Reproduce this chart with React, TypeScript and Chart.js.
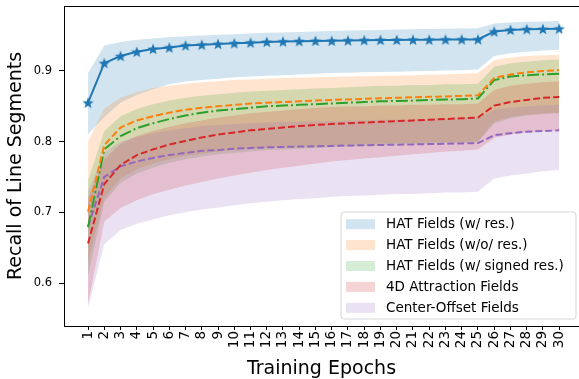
import React, { useEffect, useRef } from "react";
import { Chart, registerables } from "chart.js";

Chart.register(...registerables);

const epochs = [1, 2, 3, 4, 5, 6, 7, 8, 9, 10, 11, 12, 13, 14, 15, 16, 17, 18, 19, 20, 21, 22, 23, 24, 25, 26, 27, 28, 29, 30];
const yTicks = [0.6, 0.7, 0.8, 0.9];

const seriesNames = [
  "HAT Fields (w/ res.)",
  "HAT Fields (w/o/ res.)",
  "HAT Fields (w/ signed res.)",
  "4D Attraction Fields",
  "Center-Offset Fields",
];
const colors = ["#1f77b4", "#ff7f0e", "#2ca02c", "#d62728", "#9467bd"];

const hatRes = [0.855, 0.911, 0.921, 0.927, 0.931, 0.933, 0.936, 0.937, 0.938, 0.939, 0.940, 0.941, 0.9415, 0.942, 0.9424, 0.9425, 0.943, 0.9434, 0.9437, 0.9438, 0.944, 0.944, 0.9443, 0.9445, 0.9446, 0.9556, 0.958, 0.9589, 0.9593, 0.9598];
const hatResUpper = [0.897, 0.936, 0.941, 0.944, 0.946, 0.9475, 0.949, 0.95, 0.951, 0.952, 0.953, 0.9538, 0.9545, 0.955, 0.9558, 0.9565, 0.957, 0.9575, 0.958, 0.9585, 0.959, 0.9593, 0.9597, 0.96, 0.9603, 0.967, 0.9685, 0.9695, 0.97, 0.9706];
const hatResLower = [0.81, 0.835, 0.855, 0.866, 0.874, 0.881, 0.885, 0.887, 0.889, 0.891, 0.892, 0.893, 0.894, 0.895, 0.896, 0.897, 0.8975, 0.898, 0.8985, 0.899, 0.8995, 0.9, 0.9005, 0.901, 0.902, 0.921, 0.925, 0.927, 0.929, 0.93];

const hatNoRes = [0.701, 0.795, 0.82, 0.83, 0.836, 0.841, 0.845, 0.848, 0.85, 0.852, 0.854, 0.855, 0.856, 0.857, 0.858, 0.859, 0.8597, 0.8605, 0.8612, 0.862, 0.8627, 0.8634, 0.864, 0.8647, 0.8655, 0.89, 0.895, 0.898, 0.9, 0.901];
const hatNoResUpper = [0.8, 0.847, 0.862, 0.87, 0.876, 0.879, 0.882, 0.884, 0.8855, 0.887, 0.888, 0.889, 0.89, 0.8905, 0.891, 0.8915, 0.892, 0.8925, 0.893, 0.8935, 0.894, 0.8945, 0.895, 0.896, 0.897, 0.915, 0.919, 0.921, 0.922, 0.923];
const hatNoResLower = [0.63, 0.72, 0.748, 0.761, 0.769, 0.775, 0.78, 0.783, 0.786, 0.788, 0.79, 0.791, 0.792, 0.793, 0.794, 0.795, 0.796, 0.7965, 0.797, 0.798, 0.798, 0.799, 0.7995, 0.8, 0.801, 0.828, 0.835, 0.838, 0.84, 0.841];

const hatSigned = [0.679, 0.789, 0.808, 0.819, 0.826, 0.832, 0.837, 0.841, 0.844, 0.846, 0.848, 0.85, 0.851, 0.852, 0.853, 0.854, 0.855, 0.856, 0.857, 0.8575, 0.858, 0.859, 0.8595, 0.86, 0.861, 0.887, 0.892, 0.894, 0.895, 0.896];
const hatSignedUpper = [0.745, 0.815, 0.836, 0.846, 0.853, 0.858, 0.862, 0.865, 0.867, 0.869, 0.871, 0.872, 0.873, 0.874, 0.875, 0.876, 0.877, 0.878, 0.879, 0.879, 0.88, 0.88, 0.881, 0.881, 0.882, 0.906, 0.911, 0.913, 0.915, 0.916];
const hatSignedLower = [0.61, 0.715, 0.742, 0.755, 0.763, 0.77, 0.775, 0.779, 0.782, 0.784, 0.786, 0.788, 0.789, 0.79, 0.791, 0.792, 0.793, 0.794, 0.795, 0.796, 0.796, 0.797, 0.798, 0.798, 0.799, 0.826, 0.833, 0.837, 0.839, 0.84];

const attraction = [0.656, 0.74, 0.767, 0.781, 0.789, 0.796, 0.801, 0.806, 0.81, 0.813, 0.816, 0.818, 0.82, 0.822, 0.8235, 0.825, 0.826, 0.827, 0.828, 0.829, 0.83, 0.831, 0.832, 0.833, 0.834, 0.851, 0.856, 0.859, 0.862, 0.863];
const attractionUpper = [0.72, 0.775, 0.797, 0.808, 0.815, 0.821, 0.826, 0.83, 0.834, 0.837, 0.84, 0.842, 0.844, 0.846, 0.848, 0.849, 0.85, 0.85, 0.851, 0.851, 0.852, 0.852, 0.853, 0.853, 0.854, 0.873, 0.879, 0.882, 0.884, 0.8855];
const attractionLower = [0.57, 0.687, 0.706, 0.717, 0.726, 0.732, 0.738, 0.743, 0.748, 0.752, 0.756, 0.76, 0.763, 0.766, 0.769, 0.772, 0.774, 0.776, 0.778, 0.78, 0.782, 0.784, 0.786, 0.787, 0.789, 0.805, 0.81, 0.813, 0.815, 0.816];

const centerOffset = [0.68, 0.75, 0.765, 0.772, 0.777, 0.781, 0.784, 0.787, 0.788, 0.79, 0.791, 0.792, 0.7925, 0.793, 0.7935, 0.794, 0.7945, 0.795, 0.7953, 0.7957, 0.796, 0.7965, 0.797, 0.7975, 0.798, 0.809, 0.812, 0.814, 0.815, 0.816];
const centerOffsetUpper = [0.73, 0.785, 0.8, 0.807, 0.812, 0.816, 0.819, 0.822, 0.823, 0.825, 0.826, 0.827, 0.828, 0.828, 0.829, 0.829, 0.83, 0.83, 0.831, 0.831, 0.831, 0.832, 0.832, 0.833, 0.833, 0.845, 0.848, 0.85, 0.851, 0.852];
const centerOffsetLower = [0.565, 0.655, 0.675, 0.684, 0.69, 0.696, 0.7, 0.704, 0.707, 0.71, 0.713, 0.715, 0.717, 0.719, 0.72, 0.722, 0.723, 0.724, 0.725, 0.726, 0.726, 0.727, 0.728, 0.728, 0.729, 0.748, 0.752, 0.755, 0.758, 0.76];

const means = [hatRes, hatNoRes, hatSigned, attraction, centerOffset];
const uppers = [hatResUpper, hatNoResUpper, hatSignedUpper, attractionUpper, centerOffsetUpper];
const lowers = [hatResLower, hatNoResLower, hatSignedLower, attractionLower, centerOffsetLower];
const dashes: number[][] = [[], [7, 3], [12, 3, 2, 3], [7, 3], [7, 3]];

const FONT = "'DejaVu Sans', sans-serif";

function hexA(hex: string, a: number) {
  const r = parseInt(hex.slice(1, 3), 16);
  const g = parseInt(hex.slice(3, 5), 16);
  const b = parseInt(hex.slice(5, 7), 16);
  return `rgba(${r},${g},${b},${a})`;
}

function makeStar(color: string) {
  const c = document.createElement("canvas");
  const s = 14;
  c.width = s;
  c.height = s;
  const ctx = c.getContext("2d")!;
  const cx = s / 2, cy = s / 2 + 0.5, R = 6, r = 2.5;
  ctx.beginPath();
  for (let i = 0; i < 10; i++) {
    const ang = -Math.PI / 2 + (i * Math.PI) / 5;
    const rad = i % 2 === 0 ? R : r;
    const x = cx + rad * Math.cos(ang);
    const y = cy + rad * Math.sin(ang);
    if (i === 0) ctx.moveTo(x, y);
    else ctx.lineTo(x, y);
  }
  ctx.closePath();
  ctx.fillStyle = color;
  ctx.fill();
  return c;
}

const framePlugin = {
  id: "frame",
  afterDraw(chart: any) {
    const { ctx, chartArea } = chart;
    const { left, top, right } = chartArea;
    ctx.save();
    ctx.strokeStyle = "#000";
    ctx.lineWidth = 1;
    ctx.beginPath();
    ctx.moveTo(left, top + 0.5);
    ctx.lineTo(right + 5, top + 0.5);
    ctx.stroke();
    ctx.restore();

    // legend
    const bx = 341, by = 212, bw = 235, bh = 107, rr = 3;
    ctx.save();
    ctx.beginPath();
    ctx.moveTo(bx + rr, by);
    ctx.lineTo(bx + bw - rr, by);
    ctx.quadraticCurveTo(bx + bw, by, bx + bw, by + rr);
    ctx.lineTo(bx + bw, by + bh - rr);
    ctx.quadraticCurveTo(bx + bw, by + bh, bx + bw - rr, by + bh);
    ctx.lineTo(bx + rr, by + bh);
    ctx.quadraticCurveTo(bx, by + bh, bx, by + bh - rr);
    ctx.lineTo(bx, by + rr);
    ctx.quadraticCurveTo(bx, by, bx + rr, by);
    ctx.closePath();
    ctx.fillStyle = "rgba(255,255,255,0.8)";
    ctx.fill();
    ctx.strokeStyle = "#d6d6d6";
    ctx.lineWidth = 1;
    ctx.stroke();
    ctx.font = `13.5px ${FONT}`;
    ctx.textBaseline = "middle";
    ctx.textAlign = "left";
    seriesNames.forEach((name, i) => {
      const cy = 224.2 + i * 20.9;
      ctx.fillStyle = hexA(colors[i], 0.2);
      ctx.fillRect(346, cy - 5, 29, 10);
      ctx.fillStyle = "#000";
      ctx.fillText(name, 386, cy + 0.5);
    });
    ctx.restore();
  },
};

export default function App() {
  const ref = useRef<HTMLCanvasElement>(null);
  useEffect(() => {
    if (!ref.current) return;
    const star = makeStar(colors[0]);
    const datasets: any[] = [];
    means.forEach((m, i) => {
      datasets.push({
        label: seriesNames[i],
        data: epochs.map((e, k) => ({ x: e, y: m[k] })),
        borderColor: colors[i],
        borderWidth: 2,
        borderDash: dashes[i],
        pointRadius: i === 0 ? 6 : 0,
        pointStyle: i === 0 ? star : "circle",
        fill: false,
        tension: 0,
        order: 0,
      });
    });
    means.forEach((_, i) => {
      const upIdx = datasets.length;
      datasets.push({
        label: seriesNames[i] + " upper",
        data: epochs.map((e, k) => ({ x: e, y: uppers[i][k] })),
        borderWidth: 0,
        borderColor: "rgba(0,0,0,0)",
        pointRadius: 0,
        backgroundColor: hexA(colors[i], 0.2),
        fill: { target: upIdx + 1 },
        tension: 0,
        order: 10 - i,
      });
      datasets.push({
        label: seriesNames[i] + " lower",
        data: epochs.map((e, k) => ({ x: e, y: lowers[i][k] })),
        borderWidth: 0,
        borderColor: "rgba(0,0,0,0)",
        pointRadius: 0,
        fill: false,
        tension: 0,
        order: 10 - i,
      });
    });

    const chart = new Chart(ref.current, {
      type: "line",
      data: { datasets },
      options: {
        animation: false,
        responsive: false,
        devicePixelRatio: 1,
        layout: { autoPadding: false, padding: { top: 6, left: 0, right: 0, bottom: 0 } },
        plugins: { legend: { display: false }, tooltip: { enabled: false } },
        scales: {
          x: {
            type: "linear",
            min: -0.48,
            max: 31.22,
            afterBuildTicks: (s: any) => {
              s.ticks = epochs.map((v) => ({ value: v }));
            },
            afterFit: (s: any) => {
              s.height = 53;
              s.paddingLeft = 0;
              s.paddingRight = 0;
            },
            grid: { display: true, drawOnChartArea: false, drawTicks: true, tickLength: 4, tickColor: "#000" },
            border: { display: true, color: "#000", width: 1 },
            ticks: {
              autoSkip: false,
              minRotation: 90,
              maxRotation: 90,
              padding: 1,
              color: "#000",
              font: { family: FONT, size: 13.5 },
              callback: (v: any) => String(v),
            },
            title: {
              display: true,
              text: "Training Epochs",
              color: "#000",
              font: { family: FONT, size: 19 },
              padding: { top: 0, bottom: -1.5 },
            },
          },
          y: {
            type: "linear",
            min: 0.5393,
            max: 0.9918,
            afterBuildTicks: (s: any) => {
              s.ticks = yTicks.map((v) => ({ value: v }));
            },
            afterFit: (s: any) => {
              s.width = 64;
              s.paddingTop = 0;
              s.paddingBottom = 0;
            },
            grid: { display: true, drawOnChartArea: false, drawTicks: true, tickLength: 5, tickColor: "#000" },
            border: { display: true, color: "#000", width: 1 },
            ticks: {
              padding: 7,
              color: "#000",
              font: { family: FONT, size: 11.5 },
              callback: (v: any) => Number(v).toFixed(1),
            },
            title: {
              display: true,
              text: "Recall of Line Segments",
              color: "#000",
              font: { family: FONT, size: 19 },
              padding: { top: 4.5, bottom: 0 },
            },
          },
        },
      },
      plugins: [framePlugin],
    });
    return () => chart.destroy();
  }, []);

  return (
    <div style={{ position: "absolute", left: 0, top: 0, width: 579, height: 379, background: "#fff" }}>
      <canvas ref={ref} width={579} height={379} style={{ display: "block" }} />
    </div>
  );
}
